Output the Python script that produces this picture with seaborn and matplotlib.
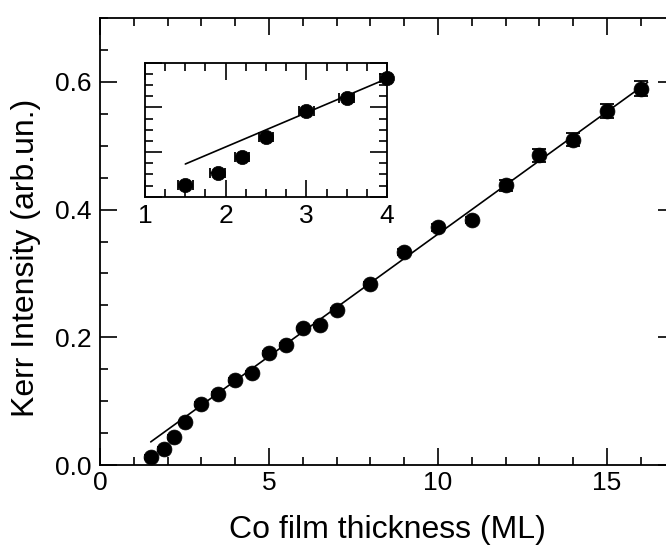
import numpy as np
import pandas as pd
import matplotlib
matplotlib.use("Agg")
import matplotlib.pyplot as plt
from matplotlib.ticker import MultipleLocator, FormatStrFormatter
import seaborn as sns

# ---- data ----
thickness = [1.5, 1.9, 2.2, 2.5, 3.0, 3.5, 4.0, 4.5, 5.0, 5.5, 6.0, 6.5, 7.0, 8.0,
             9.0, 10.0, 11.0, 12.0, 13.0, 14.0, 15.0, 16.0]
kerr = [0.013, 0.026, 0.044, 0.067, 0.096, 0.111, 0.133, 0.145, 0.175, 0.188, 0.214,
        0.220, 0.243, 0.284, 0.334, 0.372, 0.384, 0.438, 0.485, 0.509, 0.554, 0.589]
kerr_err = [0.003, 0.003, 0.003, 0.003, 0.003, 0.003, 0.003, 0.003, 0.003, 0.003, 0.003,
            0.003, 0.003, 0.003, 0.005, 0.005, 0.005, 0.009, 0.010, 0.010, 0.011, 0.012]
thickness_err = 0.09          # ML, shown in the inset
fit_slope = 0.03826
fit_intercept = -0.0208
fit_range = [1.5, 16.2]
inset_range = [1.5, 4.0]

x_ticks_main = [0, 5, 10, 15]
y_ticks_main = [0.0, 0.2, 0.4, 0.6]
x_ticks_inset = [1, 2, 3, 4]

df = pd.DataFrame({"t": thickness, "k": kerr, "ke": kerr_err})
fit_x = np.array(fit_range)
fit_df = pd.DataFrame({"t": fit_x, "k": fit_intercept + fit_slope * fit_x})
ins_df = df[df["t"] <= inset_range[1]]
ins_fit_x = np.array(inset_range)
ins_fit_df = pd.DataFrame({"t": ins_fit_x, "k": fit_intercept + fit_slope * ins_fit_x})

sns.set_style("ticks")
plt.rcParams["font.family"] = ["Liberation Sans", "DejaVu Sans"]
plt.rcParams.update({"text.color": "black", "axes.labelcolor": "black",
                     "xtick.color": "black", "ytick.color": "black",
                     "axes.edgecolor": "black"})

fig = plt.figure(figsize=(6.66, 5.49), dpi=100)
ax = fig.add_axes([0.1502, 0.1525, 0.8628, 0.8151])

def style_axes(a, lw=1.3):
    for s in a.spines.values():
        s.set_visible(True)
        s.set_color("black")
        s.set_linewidth(lw)
    a.tick_params(which="both", direction="in", top=True, right=True,
                  color="black", labelcolor="black", width=1.2)
    a.tick_params(which="major", length=12)
    a.tick_params(which="minor", length=6)

# main plot
ax.errorbar(df["t"], df["k"], yerr=df["ke"], fmt="none", ecolor="black",
            elinewidth=1.2, capsize=4.7, capthick=1.3, zorder=2)
sns.lineplot(data=fit_df, x="t", y="k", ax=ax, color="black", linewidth=1.2, zorder=1)
sns.scatterplot(data=df, x="t", y="k", ax=ax, color="black", s=115,
                edgecolor="black", linewidth=0.5, zorder=3)
ax.set_xlim(0, 17)
ax.set_ylim(0, 0.7)
ax.set_xticks(x_ticks_main)
ax.set_yticks(y_ticks_main)
ax.xaxis.set_minor_locator(MultipleLocator(1))
ax.yaxis.set_minor_locator(MultipleLocator(0.05))
ax.yaxis.set_major_formatter(FormatStrFormatter("%.1f"))
ax.xaxis.set_major_formatter(FormatStrFormatter("%d"))
style_axes(ax)
ax.tick_params(axis="x", which="major", pad=4, labelsize=19)
ax.tick_params(axis="y", which="major", pad=6, labelsize=19)
ax.set_xlabel("Co film thickness (ML)", fontsize=23, color="black")
ax.set_ylabel("Kerr Intensity (arb.un.)", fontsize=23, color="black")
ax.xaxis.set_label_coords(0.501, -0.112)
ax.yaxis.set_label_coords(-0.102, 0.463)

# inset
axi = fig.add_axes([0.2177, 0.6417, 0.3634, 0.2441])
axi.errorbar(ins_df["t"], ins_df["k"], xerr=thickness_err, yerr=ins_df["ke"], fmt="none",
             ecolor="black", elinewidth=1.2, capsize=3.6, capthick=1.3, zorder=2)
sns.lineplot(data=ins_fit_df, x="t", y="k", ax=axi, color="black", linewidth=1.2, zorder=1)
sns.scatterplot(data=ins_df, x="t", y="k", ax=axi, color="black", s=105,
                edgecolor="black", linewidth=0.5, zorder=3, clip_on=False)
axi.set_xlim(1, 4)
axi.set_ylim(0, 0.15)
axi.set_xticks(x_ticks_inset)
axi.xaxis.set_minor_locator(MultipleLocator(0.25))
axi.yaxis.set_major_locator(MultipleLocator(0.05))
axi.yaxis.set_minor_locator(MultipleLocator(0.0125))
axi.xaxis.set_major_formatter(FormatStrFormatter("%d"))
style_axes(axi)
axi.tick_params(axis="y", which="both", labelleft=False)
axi.tick_params(axis="x", which="major", pad=5, labelsize=19)
axi.set_xlabel("")
axi.set_ylabel("")

fig.savefig("out.png", dpi=100)
